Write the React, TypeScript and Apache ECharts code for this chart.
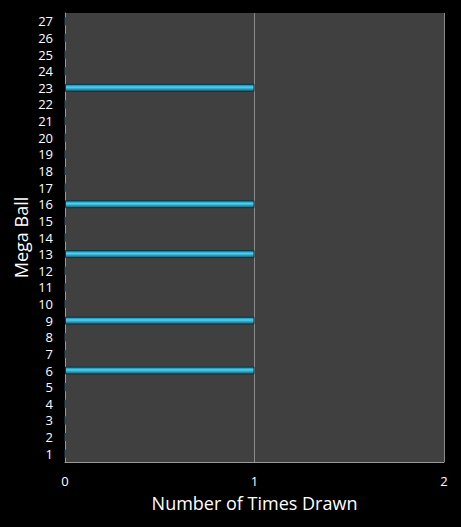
import React, { useEffect, useRef } from "react";
import * as echarts from "echarts";

const megaBalls = [
  "1", "2", "3", "4", "5", "6", "7", "8", "9", "10", "11", "12", "13", "14",
  "15", "16", "17", "18", "19", "20", "21", "22", "23", "24", "25", "26", "27",
];
const timesDrawn = [
  0, 0, 0, 0, 0, 1, 0, 0, 1, 0, 0, 0, 1, 0, 0, 1, 0, 0, 0, 0, 0, 0, 1, 0, 0, 0, 0,
];
const xTicks = { min: 0, max: 2, interval: 1 };

const FONT = "'Open Sans', 'Noto Sans', sans-serif";

const App: React.FC = () => {
  const chartRef = useRef<HTMLDivElement>(null);

  useEffect(() => {
    document.body.style.margin = "0";
    document.body.style.background = "#000000";
    if (!chartRef.current) return;
    const chart = echarts.init(chartRef.current, undefined, { renderer: "svg" });

    const barColor = new echarts.graphic.LinearGradient(0, 0, 0, 1, [
      { offset: 0, color: "#0f6f8e" },
      { offset: 0.4, color: "#4ad6f8" },
      { offset: 1, color: "#0b5874" },
    ]);

    chart.setOption({
      animation: false,
      backgroundColor: "#000000",
      textStyle: { fontFamily: FONT },
      grid: {
        left: 65,
        top: 13,
        right: 17,
        bottom: 65,
        show: true,
        backgroundColor: "#404040",
        borderWidth: 0,
      },
      xAxis: {
        type: "value",
        min: xTicks.min,
        max: xTicks.max,
        interval: xTicks.interval,
        name: "Number of Times Drawn",
        nameLocation: "middle",
        nameGap: 32,
        nameTextStyle: { color: "#ffffff", fontSize: 18, fontFamily: FONT },
        axisLine: { show: true, lineStyle: { color: "#9a9a9a", width: 1 } },
        axisTick: { show: false },
        axisLabel: { color: "#ffffff", fontSize: 13, margin: 12, fontFamily: FONT },
        splitLine: { show: true, lineStyle: { color: "#8a8a8a", width: 1 } },
      },
      yAxis: {
        type: "category",
        data: megaBalls,
        name: "Mega Ball",
        nameLocation: "middle",
        nameGap: 35,
        nameRotate: 90,
        nameMoveOverlap: false,
        nameTextStyle: { color: "#ffffff", fontSize: 18, fontFamily: FONT },
        axisLine: { show: true, lineStyle: { color: "#9a9a9a", width: 1 } },
        axisTick: { show: false },
        axisLabel: { color: "#ffffff", fontSize: 13, margin: 12, interval: 0, fontFamily: FONT },
        splitLine: { show: false },
      },
      series: [
        {
          type: "bar",
          data: timesDrawn,
          barWidth: 8,
          itemStyle: {
            color: barColor,
            borderColor: "#16323c",
            borderWidth: 1,
          },
        },
      ],
    });

    return () => {
      chart.dispose();
    };
  }, []);

  return <div ref={chartRef} style={{ width: 461, height: 527 }} />;
};

export default App;
